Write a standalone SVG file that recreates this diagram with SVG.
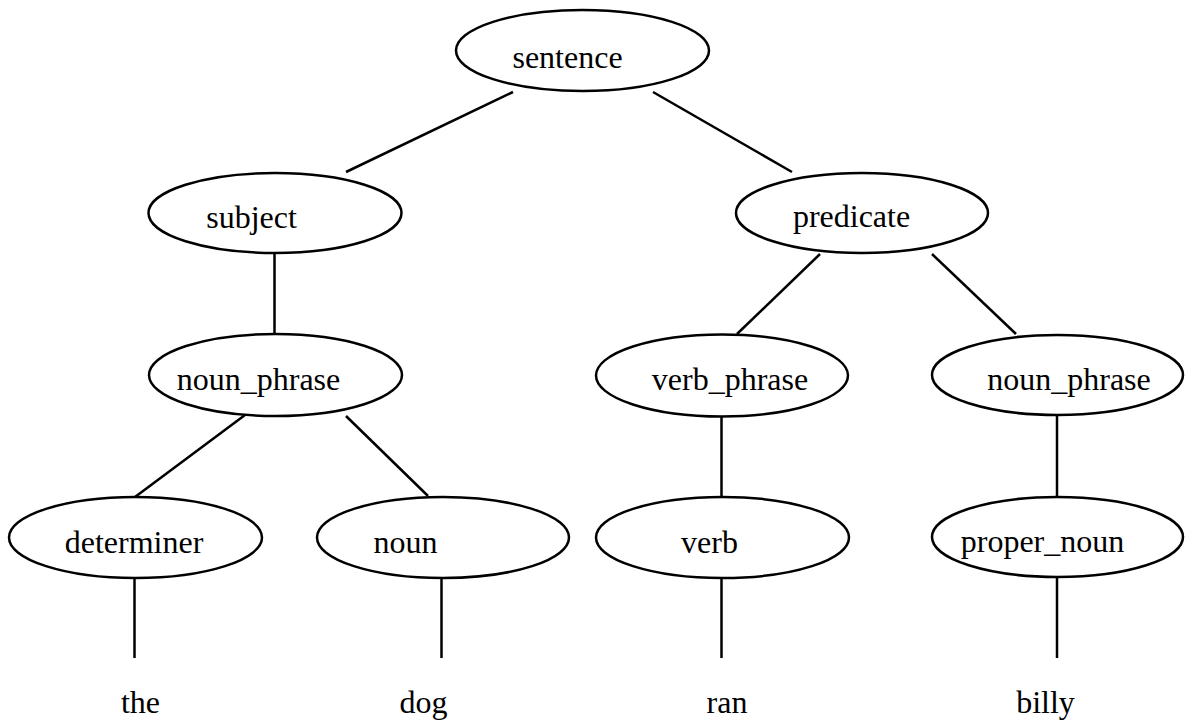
<svg xmlns="http://www.w3.org/2000/svg" width="1188" height="726" viewBox="0 0 1188 726">
<style>
.n ellipse{fill:#fff;stroke:#000;stroke-width:2.5}
text{font-family:"Liberation Serif","Times New Roman",serif;font-size:32px;fill:#000;text-anchor:middle}
.e line{stroke:#000;stroke-width:2.5}
</style>
<rect width="1188" height="726" fill="#fff"/>
<g class="e" id="connectors">
<line x1="513" y1="92" x2="346" y2="172"/>
<line x1="653" y1="92" x2="792" y2="172"/>
<line x1="274.5" y1="253" x2="274.5" y2="334"/>
<line x1="820" y1="254" x2="737" y2="334"/>
<line x1="932" y1="254" x2="1016" y2="334"/>
<line x1="245" y1="415" x2="135" y2="497"/>
<line x1="346" y1="416" x2="428" y2="496"/>
<line x1="721.5" y1="416" x2="721.5" y2="497"/>
<line x1="1057" y1="415" x2="1057" y2="497"/>
<line x1="134.5" y1="578" x2="134.5" y2="658"/>
<line x1="441.5" y1="578" x2="441.5" y2="658"/>
<line x1="721.5" y1="578" x2="721.5" y2="658"/>
<line x1="1057" y1="577" x2="1057" y2="658"/>
</g>
<g class="n" id="sentence"><ellipse cx="582.5" cy="50.5" rx="126.5" ry="40.5"/><text x="567.5" y="68">sentence</text></g>
<g class="n" id="subject"><ellipse cx="275" cy="213" rx="126.5" ry="40"/><text x="251.5" y="228">subject</text></g>
<g class="n" id="predicate"><ellipse cx="862" cy="213" rx="126" ry="40"/><text x="851.5" y="227">predicate</text></g>
<g class="n" id="noun_phrase_1"><ellipse cx="275.5" cy="375" rx="126.5" ry="41"/><text x="258.5" y="390">noun_phrase</text></g>
<g class="n" id="verb_phrase"><ellipse cx="722" cy="375.5" rx="126" ry="41"/><text x="730" y="390">verb_phrase</text></g>
<g class="n" id="noun_phrase_2"><ellipse cx="1057.5" cy="375" rx="125.5" ry="40"/><text x="1069" y="390">noun_phrase</text></g>
<g class="n" id="determiner"><ellipse cx="135.5" cy="537.5" rx="126.5" ry="40.5"/><text x="134" y="553">determiner</text></g>
<g class="n" id="noun"><ellipse cx="443" cy="537.5" rx="126" ry="40.5"/><text x="405.5" y="553">noun</text></g>
<g class="n" id="verb"><ellipse cx="722.5" cy="537.5" rx="126.5" ry="40.5"/><text x="709.5" y="553">verb</text></g>
<g class="n" id="proper_noun"><ellipse cx="1057.5" cy="537" rx="125.5" ry="40"/><text x="1042.5" y="552">proper_noun</text></g>
<g id="the"><text x="140.5" y="713">the</text></g>
<g id="dog"><text x="423.5" y="713">dog</text></g>
<g id="ran"><text x="727" y="713">ran</text></g>
<g id="billy"><text x="1045.5" y="713">billy</text></g>
</svg>
